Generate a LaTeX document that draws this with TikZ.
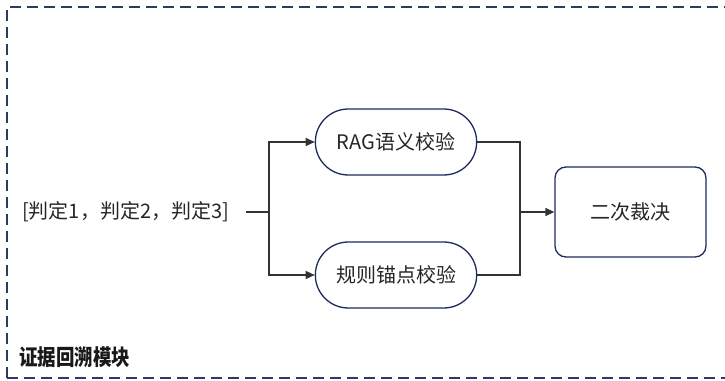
\documentclass[tikz,border=0pt]{standalone}
\usepackage{fontspec}
\setmainfont{Noto Sans CJK SC}
\newfontfamily\titlefont[FakeStretch=0.84]{Noto Sans CJK SC}
\usetikzlibrary{arrows.meta,shapes.misc}
\definecolor{navy}{HTML}{1F2A5C}
\definecolor{dashc}{HTML}{2E3A66}
\definecolor{linec}{HTML}{333333}
\tikzset{
  txt/.style={font=\fontsize{20}{22}\selectfont, text=black!85},
  pill/.style={txt, draw=navy, line width=1.3pt, rounded rectangle, minimum width=168pt, minimum height=66pt},
  rbox/.style={txt, draw=navy, line width=1.3pt, rounded corners=11pt, minimum width=151pt, minimum height=90pt},
  conn/.style={draw=linec, line width=1.3pt},
  arr/.style={conn, -{Triangle[length=9pt,width=8pt]}},
}
\begin{document}
\begin{tikzpicture}[x=1pt,y=-1pt]
\useasboundingbox (0,0) rectangle (725,380);
\clip (0,0) rectangle (725,380);
\draw[dashc, line width=1.5pt, dash pattern=on 11pt off 6pt] (7,378) -- (7,7) -- (760,7);
\draw[dashc, line width=1.5pt, dash pattern=on 11pt off 6pt] (7,378) -- (760,378);
\node[txt, anchor=west, inner sep=0pt] (in) at (22,212) {[判定1，判定2，判定3]};
\node[pill] (rag) at (396,142) {RAG语义校验};
\node[pill] (rule) at (396,275) {规则锚点校验};
\node[rbox] (dec) at (630.5,212) {二次裁决};
\node[font=\titlefont\bfseries\fontsize{22}{24}\selectfont, text=black!90, anchor=west, inner sep=0pt] (title) at (19,357) {证据回溯模块};
\coordinate (split) at (269,212);
\coordinate (join) at (520,212);
\draw[conn] (in.east) ++(17,0) coordinate (s0) -- (split);
\draw[arr] (split) |- (rag.west);
\draw[arr] (split) |- (rule.west);
\draw[conn] (rag.east) -| (join);
\draw[conn] (rule.east) -| (join);
\draw[arr] (join) -- (dec.west);
\end{tikzpicture}
\end{document}
